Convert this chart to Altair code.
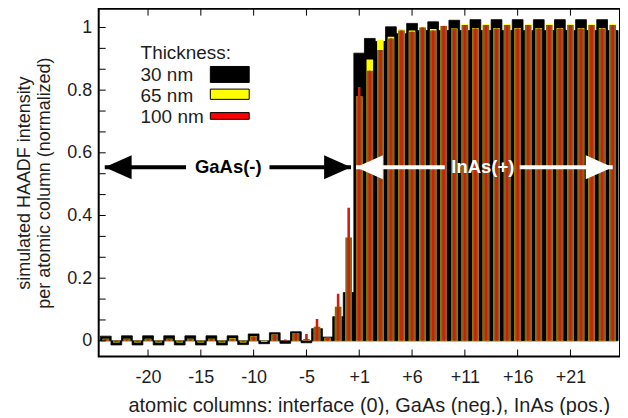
import json
import altair as alt
import numpy as np
import pandas as pd

FONT = "Liberation Sans"
TXT = "#1e1e1e"

# atomic column labels (no column 0: -1 is followed by +1)
COL_NEG = [-24, -23, -22, -21, -20, -19, -18, -17, -16, -15, -14, -13, -12, -11,
           -10, -9, -8, -7, -6, -5, -4, -3, -2, -1]
COL_POS = [1, 2, 3, 4, 5, 6, 7, 8, 9, 10, 11, 12, 13, 14, 15, 16, 17, 18, 19, 20,
           21, 22, 23, 24, 25]

# simulated normalized HAADF intensity, thickness 30 nm / 65 nm / 100 nm
T30_NEG = [0.015, -0.013, 0.016, -0.013, 0.016, -0.013, 0.016, -0.013, 0.016, -0.013,
           0.016, -0.013, 0.016, -0.012, 0.022, -0.009, 0.026, -0.008, 0.029, -0.006,
           0.039, 0.012, 0.077, 0.154]
T65_NEG = [0.007, -0.005, 0.007, -0.005, 0.007, -0.005, 0.007, -0.005, 0.007, -0.005,
           0.007, -0.005, 0.008, -0.005, 0.015, -0.003, 0.020, 0.000, 0.024, 0.006,
           0.045, 0.010, 0.109, 0.330]
T100_NEG = [0.006, -0.004, 0.006, -0.004, 0.006, -0.004, 0.006, -0.004, 0.006, -0.004,
            0.006, -0.004, 0.007, -0.003, 0.014, 0.000, 0.020, 0.004, 0.025, 0.022,
            0.070, 0.012, 0.150, 0.425]

T30_POS = [0.918, 0.965, 0.955, 1.002, 0.980, 1.013, 0.990, 1.018, 0.990, 1.023,
           0.990, 1.025, 0.990, 1.025, 0.990, 1.025, 0.990, 1.025, 0.990, 1.025,
           0.990, 1.025, 0.990, 1.025, 0.990]
T65_POS = [0.780, 0.898, 0.960, 0.970, 0.995, 0.990, 1.002, 0.995, 1.007, 0.997,
           1.010, 0.998, 1.010, 0.998, 1.010, 0.998, 1.010, 0.998, 1.010, 0.998,
           1.010, 0.998, 1.010, 0.998, 1.010]
T100_POS = [0.810, 0.862, 0.928, 0.965, 0.990, 0.986, 1.000, 0.990, 1.005, 0.995,
            1.008, 0.997, 1.008, 0.997, 1.008, 0.997, 1.008, 0.997, 1.008, 0.997,
            1.008, 0.997, 1.008, 0.997, 1.008]

TICK_COLS = [-20, -15, -10, -5, 1, 6, 11, 16, 21]
TICK_LABELS = ["-20", "-15", "-10", "-5", "+1", "+6", "+11", "+16", "+21"]
Y_LABELS = [0, 0.2, 0.4, 0.6, 0.8, 1]
Y_TICKS = [0, 0.0667, 0.1333, 0.2, 0.2667, 0.3333, 0.4, 0.4667, 0.5333, 0.6,
           0.6667, 0.7333, 0.8, 0.8667, 0.9333, 1.0]

LEGEND_TITLE = "Thickness:"
LEGEND_LABELS = ["30 nm", "65 nm", "100 nm"]

ARROW_Y = 0.554
GAAS_SEGMENTS = [(-23.6, -15.9), (-8.0, -0.28)]
INAS_SEGMENTS = [(0.19, 8.6), (15.7, 24.5)]
GAAS_TEXT = ("GaAs(-)", -11.9)
INAS_TEXT = ("InAs(+)", 12.2)


def col_center(c):
    # column -1 is directly followed by +1 on the axis
    return c + 0.5 if c < 0 else c - 0.5


# ---- table -------------------------------------------------------------
cols = COL_NEG + COL_POS
pos = [col_center(c) for c in cols]
v30 = np.array(T30_NEG + T30_POS)
v65 = np.array(T65_NEG + T65_POS)
v100 = np.array(T100_NEG + T100_POS)
overlap = np.where(np.sign(v65) == np.sign(v100),
                   np.sign(v65) * np.minimum(np.abs(v65), np.abs(v100)), 0.0)
df = pd.DataFrame({"col": cols, "pos": pos, "v30": v30, "v65": v65,
                   "v100": v100, "both": overlap})

TICK_POS = [col_center(c) for c in TICK_COLS]

xs = alt.Scale(domain=[-23.7, 24.72], nice=False, zero=False)
ys = alt.Scale(domain=[-0.05, 1.06], nice=False, zero=False)

label_expr = f"{json.dumps(TICK_LABELS)}[indexof({json.dumps(TICK_POS)}, datum.value)]"

x_axis = alt.Axis(values=TICK_POS, labelExpr=label_expr, ticks=False, domain=False,
                  grid=False, labelPadding=12, labelFontSize=18, labelFont=FONT,
                  labelColor=TXT, labelOverlap=False, labelFlush=False,
                  title="atomic columns: interface (0), GaAs (neg.), InAs (pos.)",
                  titleFont=FONT, titleFontSize=20, titleFontWeight="normal",
                  titleColor=TXT, titlePadding=9, titleX=271)
y_axis = alt.Axis(values=Y_LABELS, format="~g", ticks=False, domain=False, grid=False,
                  labelPadding=7, labelFontSize=18, labelFont=FONT, labelColor=TXT,
                  title=["simulated HAADF intensity", "per atomic column (normalized)"],
                  titleFont=FONT, titleFontSize=18, titleFontWeight="normal",
                  titleColor=TXT, titlePadding=13)


def X(field):
    return alt.X(field, scale=xs, axis=x_axis)


def Y(field):
    return alt.Y(field, scale=ys, axis=y_axis)


base = alt.Chart(df)
black = base.mark_bar(size=10.8, color="#000000", stroke="#000000", strokeWidth=0.8,
                      clip=True).encode(x=X("pos:Q"), y=Y("v30:Q"), y2=alt.datum(0))
yellow = base.mark_bar(size=6.6, color="#ffff00", clip=True).encode(
    x=X("pos:Q"), y=Y("v65:Q"), y2=alt.datum(0))
brown = base.mark_bar(size=6.6, color="#8a621a", clip=True).encode(
    x=X("pos:Q"), y=Y("both:Q"), y2=alt.datum(0))
red = base.mark_bar(size=2.6, color="#cc1f0e", clip=True).encode(
    x=X("pos:Q"), y=Y("v100:Q"), y2=alt.datum(0))

# inward ticks
xt_df = pd.DataFrame({"t": TICK_POS})
xt_bot = alt.Chart(xt_df).mark_rule(color="black", strokeWidth=1).encode(
    x=X("t:Q"), y=alt.value(349), y2=alt.value(342))
xt_top = alt.Chart(xt_df).mark_rule(color="black", strokeWidth=1).encode(
    x=X("t:Q"), y=alt.value(0), y2=alt.value(7))
yt = alt.Chart(pd.DataFrame({"t": Y_TICKS})).mark_rule(color="black", strokeWidth=1).encode(
    y=Y("t:Q"), x=alt.value(0), x2=alt.value(7))

# arrows
LEFT_HEAD = "M0,0L2,-0.9L2,0.9Z"
RIGHT_HEAD = "M0,0L-2,-0.9L-2,0.9Z"


def arrow(segments, color, text, textcolor):
    seg_df = pd.DataFrame({"a": [s[0] for s in segments], "b": [s[1] for s in segments],
                           "y": [ARROW_Y] * len(segments)})
    line = alt.Chart(seg_df).mark_rule(color=color, strokeWidth=4).encode(
        x=X("a:Q"), x2="b:Q", y=Y("y:Q"))
    lh = alt.Chart(pd.DataFrame({"x": [segments[0][0]], "y": [ARROW_Y]})).mark_point(
        shape=LEFT_HEAD, filled=True, size=729, color=color, opacity=1).encode(
        x=X("x:Q"), y=Y("y:Q"))
    rh = alt.Chart(pd.DataFrame({"x": [segments[-1][1]], "y": [ARROW_Y]})).mark_point(
        shape=RIGHT_HEAD, filled=True, size=729, color=color, opacity=1).encode(
        x=X("x:Q"), y=Y("y:Q"))
    tx = alt.Chart(pd.DataFrame({"t": [text[0]], "x": [text[1]], "y": [ARROW_Y]})).mark_text(
        font=FONT, fontSize=18.5, fontWeight="bold", color=textcolor,
        align="center", baseline="middle").encode(
        x=X("x:Q"), y=Y("y:Q"), text="t:N")
    return [line, lh, rh, tx]


gaas = arrow(GAAS_SEGMENTS, "#000000", GAAS_TEXT, "#000000")
inas = arrow(INAS_SEGMENTS, "#ffffff", INAS_TEXT, "#ffffff")

# legend (drawn inside the plot, symbols right of labels)
one = pd.DataFrame({"k": [0]})
legend = [alt.Chart(pd.DataFrame({"t": [LEGEND_TITLE]})).mark_text(
    font=FONT, fontSize=19, color=TXT, align="left", baseline="middle").encode(
    x=alt.value(42), y=alt.value(45), text="t:N")]
leg_y = [66.5, 87.5, 108.5]
box_y = [(58, 74), (80.7, 91), (104.3, 111)]
box_fill = ["#000000", "#ffff00", "#ff0000"]
for lab, ly, (b0, b1), fc in zip(LEGEND_LABELS, leg_y, box_y, box_fill):
    legend.append(alt.Chart(pd.DataFrame({"t": [lab]})).mark_text(
        font=FONT, fontSize=19, color=TXT, align="left", baseline="middle").encode(
        x=alt.value(42), y=alt.value(ly), text="t:N"))
    legend.append(alt.Chart(one).mark_rect(fill=fc, stroke="#000000", strokeWidth=1).encode(
        x=alt.value(112), x2=alt.value(151), y=alt.value(b0), y2=alt.value(b1)))

chart = alt.layer(black, yellow, brown, red, xt_bot, xt_top, yt, *gaas, *inas, *legend).properties(
    width=523, height=349,
    padding={"left": 91, "top": 0, "right": 0, "bottom": 58},
    autosize=alt.AutoSizeParams(type="none"),
    background="white",
).configure_view(stroke="#000000", strokeWidth=2)

chart.save("out.html", embed_options={"renderer": "svg", "actions": False})
